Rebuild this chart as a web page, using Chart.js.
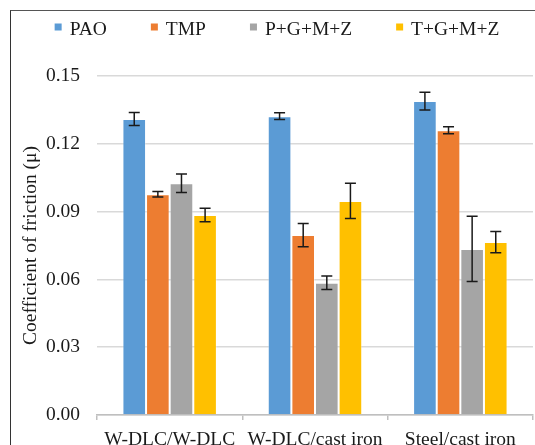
<!DOCTYPE html>
<html lang="en">
<head>
    <meta charset="UTF-8">
    <title>Coefficient of friction</title>
    <script src="https://cdn.jsdelivr.net/npm/chart.js@4"></script>
    <style>
        body { margin: 0; background: #fff; }
        #wrap { position: relative; width: 535px; height: 445px; overflow: hidden; }
        #frame {
            position: absolute; left: 10px; top: 10px; width: 700px; height: 700px;
            border-left: 1.5px solid #333; border-top: 1.5px solid #555;
            pointer-events: none;
        }
    </style>
</head>
<body>
<div id="wrap">
    <canvas id="cof" width="535" height="445"></canvas>
    <div id="frame"></div>
</div>

<script>
    // values
    const pairs = ['W-DLC/W-DLC', 'W-DLC/cast iron', 'Steel/cast iron'];
    const lubricants = ['PAO', 'TMP', 'P+G+M+Z', 'T+G+M+Z'];
    const colors = ['#5B9BD5', '#ED7D31', '#A5A5A5', '#FFC000'];

    const pao = [0.1310, 0.1322, 0.1389];
    const tmp = [0.0977, 0.0796, 0.1260];
    const pgmz = [0.1025, 0.0585, 0.0735];
    const tgmz = [0.0885, 0.0947, 0.0765];

    const paoErr = [0.0029, 0.0015, 0.0039];
    const tmpErr = [0.0012, 0.0051, 0.0015];
    const pgmzErr = [0.0041, 0.0030, 0.0144];
    const tgmzErr = [0.0030, 0.0078, 0.0047];

    const yTicks = [0, 0.03, 0.06, 0.09, 0.12, 0.15];

    const series = [pao, tmp, pgmz, tgmz];
    const errors = [paoErr, tmpErr, pgmzErr, tgmzErr];
    const FONT = '"Liberation Serif", "Times New Roman", serif';

    // error bars drawn through the y scale
    const errorBars = {
        id: 'errorBars',
        afterDatasetsDraw(chart) {
            const ctx = chart.ctx;
            const y = chart.scales.y;
            ctx.save();
            ctx.strokeStyle = '#1a1a1a';
            ctx.lineWidth = 1.5;
            chart.data.datasets.forEach((ds, i) => {
                const meta = chart.getDatasetMeta(i);
                meta.data.forEach((bar, j) => {
                    const v = ds.data[j], e = errors[i][j];
                    const top = y.getPixelForValue(v + e);
                    const bot = y.getPixelForValue(v - e);
                    ctx.beginPath();
                    ctx.moveTo(bar.x, top); ctx.lineTo(bar.x, bot);
                    ctx.moveTo(bar.x - 5.5, top); ctx.lineTo(bar.x + 5.5, top);
                    ctx.moveTo(bar.x - 5.5, bot); ctx.lineTo(bar.x + 5.5, bot);
                    ctx.stroke();
                });
            });
            ctx.restore();
        }
    };

    // Excel-like legend row at the top
    const topLegend = {
        id: 'topLegend',
        afterDraw(chart) {
            const ctx = chart.ctx;
            ctx.save();
            ctx.font = '19.5px ' + FONT;
            ctx.textBaseline = 'alphabetic';
            const box = 7, gapText = 15, gapItem = 44;
            const widths = chart.data.datasets.map(d => ctx.measureText(d.label).width);
            let total = widths.reduce((a, b) => a + b, 0) + lubricants.length * gapText + (lubricants.length - 1) * gapItem;
            let x = 277 - total / 2;
            chart.data.datasets.forEach((d, i) => {
                ctx.fillStyle = d.backgroundColor;
                ctx.fillRect(x, 23.5, box, box);
                ctx.fillStyle = '#1a1a1a';
                ctx.fillText(d.label, x + gapText, 35);
                x += gapText + widths[i] + gapItem;
            });
            ctx.restore();
        }
    };

    new Chart(document.getElementById('cof').getContext('2d'), {
        type: 'bar',
        data: {
            labels: pairs,
            datasets: series.map((s, i) => ({
                label: lubricants[i],
                data: s,
                backgroundColor: colors[i],
                borderColor: 'rgba(255,255,255,0.35)',
                borderWidth: 1,
                barPercentage: 1,
                categoryPercentage: 0.65
            }))
        },
        options: {
            responsive: false,
            animation: false,
            layout: { padding: { left: 0, right: 2, top: 76, bottom: 0 } },
            plugins: {
                legend: { display: false },
                tooltip: { enabled: false }
            },
            scales: {
                x: {
                    afterFit: (s) => { s.height = 30; },
                    grid: {
                        offset: true,
                        drawOnChartArea: false,
                        drawTicks: true,
                        tickLength: 5,
                        color: '#BFBFBF',
                        lineWidth: 1.5
                    },
                    border: { color: '#BFBFBF', width: 1.5 },
                    ticks: {
                        padding: 8,
                        color: '#1a1a1a',
                        font: { family: FONT, size: 19.5 }
                    }
                },
                y: {
                    min: 0,
                    max: 0.15,
                    afterFit: (s) => { s.width = 97; },
                    afterBuildTicks: (s) => { s.ticks = yTicks.map(v => ({ value: v })); },
                    grid: { color: '#D9D9D9', lineWidth: 1.5, drawTicks: false },
                    border: { display: false },
                    ticks: {
                        padding: 17,
                        color: '#1a1a1a',
                        font: { family: FONT, size: 19.5 },
                        callback: (v) => v.toFixed(2)
                    },
                    title: {
                        display: true,
                        text: 'Coefficient of friction (μ)',
                        color: '#1a1a1a',
                        font: { family: FONT, size: 19.5 },
                        padding: { top: 19, bottom: 0 }
                    }
                }
            }
        },
        plugins: [errorBars, topLegend]
    });
</script>
</body>
</html>
